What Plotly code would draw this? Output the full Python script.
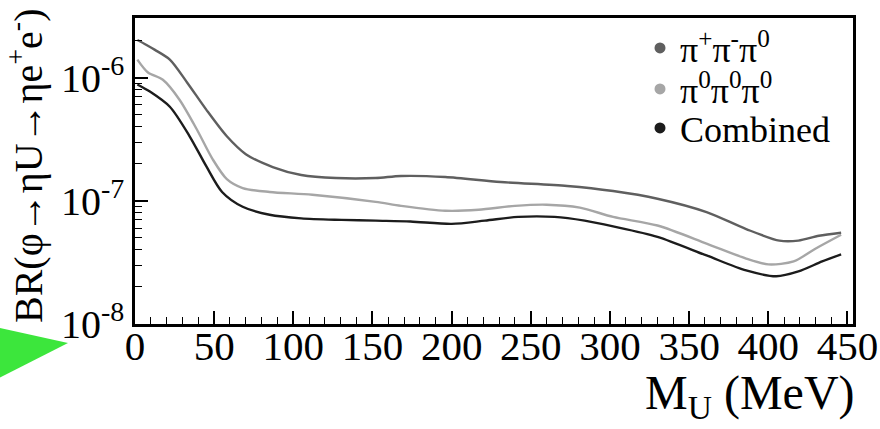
import plotly.graph_objects as go

# ---- data ----
mass_pipipi = [1.5, 7, 12.6, 22, 33, 45, 58, 70, 87, 105, 127, 152, 168, 196, 231, 273, 302, 330, 361, 386, 407, 419, 432, 446]
br_pipipi = [2.02e-6, 1.85e-6, 1.68e-6, 1.40e-6, 9.1e-7, 5.5e-7, 3.34e-7, 2.39e-7, 1.88e-7, 1.62e-7, 1.53e-7, 1.53e-7, 1.59e-7,
             1.56e-7, 1.42e-7, 1.32e-7, 1.20e-7, 1.04e-7, 8.1e-8, 5.9e-8, 4.75e-8, 4.75e-8, 5.2e-8, 5.5e-8]

mass_pi0 = [1.5, 8.2, 17.6, 28, 39, 49, 58, 68, 85, 112, 152, 168, 196, 217, 240, 260, 281, 302, 330, 361, 386, 400, 416, 430, 446]
br_pi0 = [1.40e-6, 1.10e-6, 9.6e-7, 6.65e-7, 3.81e-7, 2.18e-7, 1.50e-7, 1.27e-7, 1.18e-7, 1.12e-7, 9.8e-8, 9.1e-8,
          8.3e-8, 8.45e-8, 9.1e-8, 9.3e-8, 8.8e-8, 7.4e-8, 6.3e-8, 4.5e-8, 3.4e-8, 3.05e-8, 3.22e-8, 4.1e-8, 5.3e-8]

mass_comb = [1.5, 9.4, 22, 34.5, 45, 55, 68, 85, 105, 130.5, 152, 174, 200, 221, 242, 265, 284, 302, 330, 361, 386, 405, 419, 434, 446]
br_comb = [8.8e-7, 7.7e-7, 5.8e-7, 3.34e-7, 1.91e-7, 1.18e-7, 8.95e-8, 7.7e-8, 7.2e-8, 7.0e-8, 6.9e-8, 6.8e-8,
           6.5e-8, 6.9e-8, 7.4e-8, 7.4e-8, 6.9e-8, 6.2e-8, 5.1e-8, 3.6e-8, 2.72e-8, 2.44e-8, 2.67e-8, 3.22e-8, 3.67e-8]

series_names = ["π<sup>+</sup>π<sup>-</sup>π<sup>0</sup>", "π<sup>0</sup>π<sup>0</sup>π<sup>0</sup>", "Combined"]
series_colors = ["#5f5f5f", "#a6a6a6", "#1c1c1c"]

x_tick_vals = [0, 50, 100, 150, 200, 250, 300, 350, 400, 450]
y_tick_vals = [1e-8, 1e-7, 1e-6]
y_tick_text = ["10<sup>-8</sup>", "10<sup>-7</sup>", "10<sup>-6</sup>"]

# ---- figure ----
W, H = 880, 429
L, R, T, B = 135, 27, 18, 105
FONT = "'Liberation Serif', 'Times New Roman', serif"

pw, ph = W - L - R, H - T - B
def px(xp):
    return (xp - L) / pw
def py(yp):
    return (H - B - yp) / ph

fig = go.Figure()
data = [(mass_pipipi, br_pipipi), (mass_pi0, br_pi0), (mass_comb, br_comb)]
for (xs, ys), col in zip(data, series_colors):
    fig.add_trace(go.Scatter(x=xs, y=ys, mode="lines", line=dict(color=col, width=2.4, shape="spline", smoothing=0.8),
                             showlegend=False, hoverinfo="skip"))

legend_ids = ["legend", "legend2", "legend3"]
legend_rows = [48, 89, 128]
for name, col, lid in zip(series_names, series_colors, legend_ids):
    fig.add_trace(go.Scatter(x=[None], y=[None], mode="markers", name=name, legend=lid,
                             marker=dict(color=col, size=11)))

minor_y = [k * 10.0 ** e for e in (-8, -7, -6) for k in range(2, 10)]

legend_common = dict(xanchor="left", yanchor="middle", bgcolor="rgba(0,0,0,0)", borderwidth=0,
                     font=dict(family=FONT, size=36, color="black"), itemwidth=30)
legends = {lid: dict(x=px(640), y=py(row), **legend_common) for lid, row in zip(legend_ids, legend_rows)}

fig.update_layout(
    template="none",
    width=W, height=H,
    margin=dict(l=L, r=R, t=T, b=B, autoexpand=False),
    paper_bgcolor="white", plot_bgcolor="white",
    font=dict(family=FONT, color="black"),
    showlegend=True,
    **legends,
    xaxis=dict(range=[0, 453.5], tickvals=x_tick_vals, ticks="inside", ticklen=13, tickwidth=1.5, tickcolor="black",
               showline=True, linecolor="black", linewidth=2.5, mirror=True, showgrid=False, zeroline=False,
               automargin=False, ticklabelstandoff=-16, ticklabeloverflow="allow",
               tickfont=dict(family=FONT, size=41, color="black"),
               minor=dict(ticks="inside", dtick=10, ticklen=7, tickwidth=1.3, tickcolor="black", showgrid=False)),
    yaxis=dict(type="log", range=[-8.0, -5.516], tickvals=y_tick_vals, ticktext=y_tick_text,
               ticks="inside", ticklen=13, tickwidth=1.5, tickcolor="black",
               showline=True, linecolor="black", linewidth=2.5, mirror=True, showgrid=False, zeroline=False,
               automargin=False, ticklabeloverflow="allow",
               tickfont=dict(family=FONT, size=40, color="black"),
               minor=dict(ticks="inside", tickvals=minor_y, ticklen=7, tickwidth=1.3, tickcolor="black", showgrid=False)),
)

# axis titles
fig.add_annotation(text="M<sub>U</sub> (MeV)", xref="paper", yref="paper", x=px(857), y=py(396),
                   xanchor="right", yanchor="middle", showarrow=False,
                   font=dict(family=FONT, size=48, color="black"))
fig.add_annotation(text="BR(φ→ηU→ηe<sup>+</sup>e<sup>-</sup>)", xref="paper", yref="paper", x=px(26), y=py(166),
                   xanchor="center", yanchor="middle", textangle=-90, showarrow=False,
                   font=dict(family=FONT, size=40, color="black"))

# green triangle marker at lower left
fig.add_shape(type="path", xref="paper", yref="paper",
              path=f"M {px(-5)},{py(327)} L {px(68)},{py(343)} L {px(-5)},{py(380)} Z",
              fillcolor="#3ce63c", line=dict(width=0), layer="above")

fig.write_html("out.html", config={"displayModeBar": False},
               post_script="document.body.style.margin='0px';document.body.style.padding='0px';")
